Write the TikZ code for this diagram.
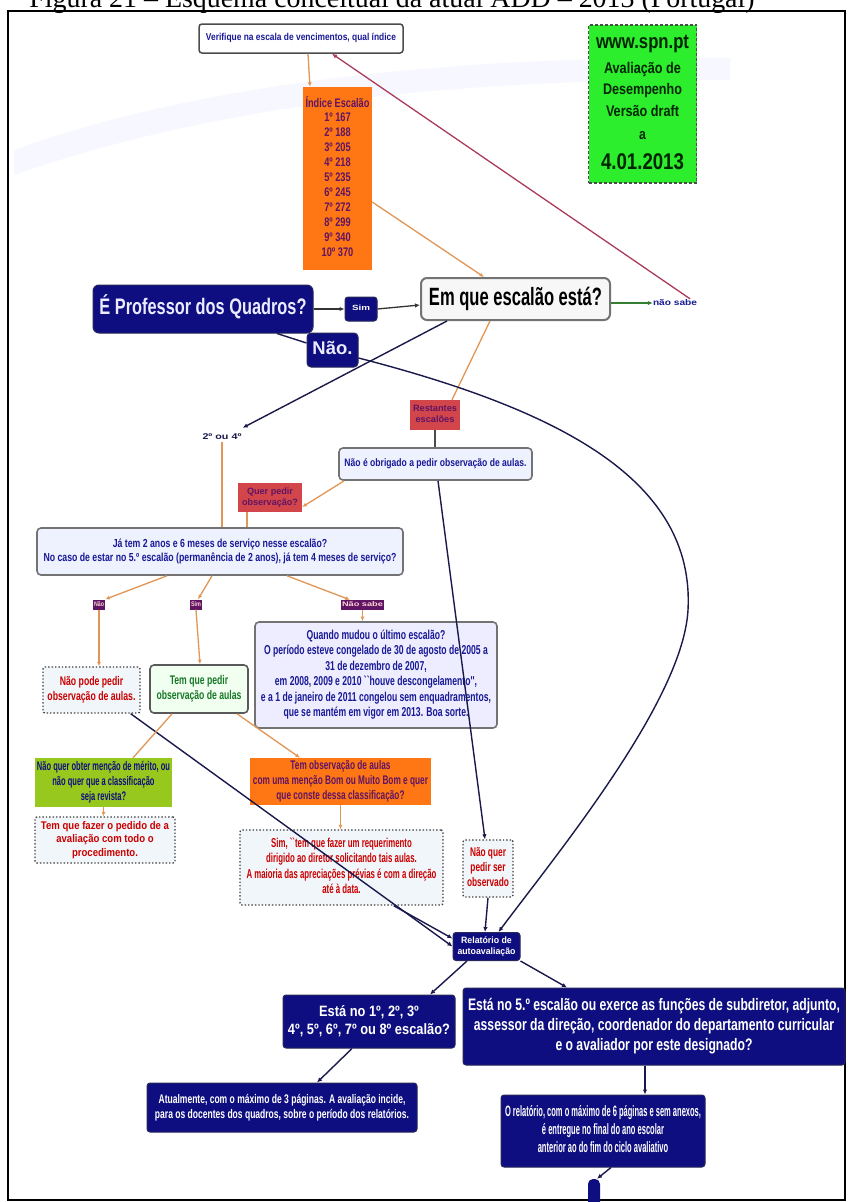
\documentclass[tikz,border=0pt]{standalone}
\usepackage{fontspec}
\usepackage{graphicx}
\setmainfont{Liberation Sans}
\newfontfamily\nar[FakeStretch=0.82]{Liberation Sans}
\newfontfamily\titlefont{Liberation Serif}
\usetikzlibrary{arrows.meta,calc}
\newcommand{\fitt}[3]{\resizebox*{#1}{#2}{\begin{tabular}{@{}c@{}}#3\end{tabular}}}
\definecolor{navy}{RGB}{14,14,128}
\definecolor{navyd}{RGB}{40,40,90}
\definecolor{lnavy}{RGB}{25,25,75}
\definecolor{lorange}{RGB}{225,150,85}
\definecolor{lred}{RGB}{170,60,90}
\definecolor{textblue}{RGB}{25,25,150}
\definecolor{paleblue}{RGB}{238,242,255}
\definecolor{palebg}{RGB}{240,246,250}
\definecolor{boxred}{RGB}{210,70,75}
\definecolor{purp}{RGB}{95,20,100}
\definecolor{orng}{RGB}{255,118,20}
\definecolor{greenb}{RGB}{45,238,45}
\definecolor{limeb}{RGB}{150,200,30}
\definecolor{darkgreen}{RGB}{25,120,40}
\tikzset{
  base/.style={font=\nar\bfseries\fontsize{10}{12}\selectfont, align=center, inner sep=0pt},
  navybox/.style={base, fill=navy, draw=navyd, line width=1pt, rounded corners=3pt, text=white},
  lightbox/.style={base, fill=paleblue, draw=black!55, line width=1.6pt, rounded corners=4pt, text=textblue},
  dotbox/.style={base, fill=palebg, draw=black!75, line width=1.4pt, dotted, rounded corners=2pt, text=red!80!black},
  redbox/.style={base, fill=boxred, text=purp},
  smalllab/.style={base, fill=purp, text=pink!70!white, inner sep=1pt},
  nline/.style={draw=lnavy, line width=1.4pt, -{Latex[length=5pt,width=4.5pt]}},
  nplain/.style={draw=lnavy, line width=1.4pt},
  oline/.style={draw=lorange, line width=1.3pt, -{Latex[length=4.5pt,width=4pt]}},
  oplain/.style={draw=lorange, line width=1.3pt},
  gtext/.style={base, text=black!85!green},
}
\begin{document}
\begin{tikzpicture}[x=1pt,y=-1pt]
\useasboundingbox (0,0) rectangle (849,1202);
\fill[white] (0,0) rectangle (849,1202);
% faint background swoosh
\fill[blue!3] (14,150) .. controls (180,90) and (420,55) .. (730,58) -- (730,80) .. controls (430,78) and (200,110) .. (14,175) -- cycle;
% caption and frame
\node[anchor=base, inner sep=0pt, font=\titlefont] (title) at (392,7)
  {\resizebox{725pt}{!}{Figura 21 – Esquema conceitual da atual ADD – 2013 (Portugal)}};
\draw[line width=1.6pt] (8,11) rectangle (845,1200);

% ---------- nodes ----------
\node[base, fill=white, draw=black!70, line width=1.5pt, rounded corners=3pt, text=textblue,
      minimum width=204pt, minimum height=29pt] (topbox) at (301,38.5)
  {\fitt{190pt}{12pt}{Verifique na escala de vencimentos, qual índice}};

\node[base, fill=orng, text=purp, minimum width=69pt, minimum height=183pt] (indice) at (337.5,178.5)
  {\fitt{64pt}{165pt}{Índice Escalão\\1º 167\\2º 188\\3º 205\\4º 218\\5º 235\\6º 245\\7º 272\\8º 299\\9º 340\\10º 370}};

\node[base, fill=greenb, draw=black!70, densely dashed, line width=1.2pt,
      minimum width=108pt, minimum height=158pt] (green) at (642.5,104) {};
\node[gtext] (g1) at (642.5,44) {\resizebox{93pt}{!}{www.spn.pt}};
\node[gtext] (g2) at (642.5,70) {\resizebox{77pt}{!}{Avaliação de}};
\node[gtext] (g3) at (642.5,91) {\resizebox{79pt}{!}{Desempenho}};
\node[gtext] (g4) at (642.5,111) {\resizebox{73pt}{!}{Versão draft}};
\node[gtext, font=\nar\bfseries\fontsize{15}{16}\selectfont] (g5) at (642.5,136) {a};
\node[gtext] (g6) at (642.5,162) {\resizebox{83pt}{!}{4.01.2013}};

\node[navybox, rounded corners=6pt, text=blue!8!white, minimum width=220pt, minimum height=48pt] (prof) at (203,309)
  {\fitt{207pt}{28pt}{É Professor dos Quadros?}};
\node[navybox, minimum width=32pt, minimum height=24pt] (sim1) at (361,309) {\fitt{18pt}{9pt}{Sim}};
\node[base, fill=black!3, draw=black!55, line width=2pt, rounded corners=6pt, text=black,
      minimum width=189pt, minimum height=42pt] (escalao) at (515.5,299) {\fitt{173pt}{30pt}{Em que escalão está?}};
\node[navybox, rounded corners=4pt, text=blue!8!white, minimum width=51pt, minimum height=34pt] (nao) at (332.5,350)
  {\fitt{40pt}{22pt}{Não.}};
\node[base, text=textblue] (naosabe) at (675,303) {\fitt{44pt}{10pt}{não sabe}};

\node[base, text=lnavy] (esc24) at (222,437) {\fitt{39pt}{10pt}{2º ou 4º}};
\node[redbox, minimum width=50pt, minimum height=30pt] (restantes) at (435,415) {\fitt{44pt}{22pt}{Restantes\\escalões}};
\node[lightbox, minimum width=193pt, minimum height=32pt] (naoobrig) at (435.5,464)
  {\fitt{182pt}{13pt}{Não é obrigado a pedir observação de aulas.}};
\node[redbox, minimum width=64pt, minimum height=29pt] (querpedir) at (270,497.5) {\fitt{56pt}{22pt}{Quer pedir\\observação?}};

\node[lightbox, minimum width=366pt, minimum height=47pt] (bigq) at (220,551.5)
  {\fitt{353pt}{28pt}{Já tem 2 anos e 6 meses de serviço nesse escalão?\\
   No caso de estar no 5.º escalão (permanência de 2 anos), já tem 4 meses de serviço?}};

\node[smalllab] (l1) at (99,604.5) {\fitt{10pt}{8pt}{Não}};
\node[smalllab] (l2) at (196,604.5) {\fitt{10pt}{8pt}{Sim}};
\node[smalllab] (l3) at (362.5,605) {\fitt{41pt}{8pt}{Não sabe}};

\node[dotbox, minimum width=97pt, minimum height=46pt] (naopode) at (91.5,690)
  {\fitt{88pt}{30pt}{Não pode pedir\\observação de aulas.}};
\node[lightbox, fill=green!6!white, text=darkgreen, draw=black!65, minimum width=98pt, minimum height=48pt] (temque) at (199,689)
  {\fitt{85pt}{30pt}{Tem que pedir\\observação de aulas}};
\node[lightbox, fill=blue!7!white, minimum width=242pt, minimum height=106pt] (quando) at (376,675)
  {\fitt{230pt}{93pt}{Quando mudou o último escalão?\\
   O período esteve congelado de 30 de agosto de 2005 a\\
   31 de dezembro de 2007,\\
   em 2008, 2009 e 2010 ``houve descongelamento'',\\
   e a 1 de janeiro de 2011 congelou sem enquadramentos,\\
   que se mantém em vigor em 2013. Boa sorte.}};

\node[base, fill=limeb, text=navy, minimum width=137pt, minimum height=49pt] (lime) at (103.5,782.5)
  {\fitt{133pt}{45pt}{Não quer obter menção de mérito, ou\\não quer que a classificação\\seja revista?}};
\node[base, fill=orng, text=purp, minimum width=181pt, minimum height=47pt] (orange2) at (340.5,781.5)
  {\fitt{175pt}{45pt}{Tem observação de aulas\\com uma menção Bom ou Muito Bom e quer\\que conste dessa classificação?}};

\node[dotbox, minimum width=140pt, minimum height=46pt] (temfazer) at (105,840)
  {\fitt{128pt}{40pt}{Tem que fazer o pedido de a\\avaliação com todo o\\procedimento.}};
\node[dotbox, minimum width=203pt, minimum height=75pt] (simreq) at (341.5,867.5)
  {\fitt{190pt}{62pt}{Sim, ``tem que fazer um requerimento\\dirigido ao diretor solicitando tais aulas.\\A maioria das apreciações prévias é com a direção\\até à data.}};
\node[dotbox, minimum width=50pt, minimum height=57pt] (naoquero) at (488,868.5)
  {\fitt{42pt}{45pt}{Não quer\\pedir ser\\observado}};

\node[navybox, minimum width=67pt, minimum height=28pt] (relat) at (486.5,946.5)
  {\fitt{58pt}{22pt}{Relatório de\\autoavaliação}};

\node[navybox, minimum width=172pt, minimum height=53pt] (esta1) at (369,1021.5)
  {\fitt{162pt}{36pt}{Está no 1º, 2º, 3º\\4º, 5º, 6º, 7º ou 8º escalão?}};
\node[navybox, minimum width=382pt, minimum height=77pt] (esta5) at (654,1026.5)
  {\fitt{372pt}{60pt}{Está no 5.º escalão ou exerce as funções de subdiretor, adjunto,\\
   assessor da direção, coordenador do departamento curricular\\
   e o avaliador por este designado?}};

\node[navybox, minimum width=270pt, minimum height=49pt] (atual) at (282,1107.5)
  {\fitt{254pt}{30pt}{Atualmente, com o máximo de 3 páginas. A avaliação incide,\\
   para os docentes dos quadros, sobre o período dos relatórios.}};
\node[navybox, minimum width=204pt, minimum height=72pt] (orel) at (603,1131)
  {\fitt{196pt}{54pt}{O relatório, com o máximo de 6 páginas e sem anexos,\\
   é entregue no final do ano escolar\\
   anterior ao do fim do ciclo avaliativo}};

\node[fill=navy, rounded corners=5pt, minimum width=12pt, minimum height=38pt, inner sep=0pt] (pill) at (594,1198) {};

% ---------- connectors ----------
\draw[oline] ([xshift=7pt]topbox.south) -- ([xshift=-27.5pt]indice.north);
\draw[draw=lred, line width=1.3pt, -{Latex[length=5pt,width=4.5pt]}] ([xshift=15pt,yshift=-1pt]naosabe.north) -- ([xshift=31pt]topbox.south);
\draw[oline] ([yshift=-23.5pt]indice.east) -- ([xshift=-31.5pt]escalao.north);
\draw[draw=black!80, line width=1.3pt, -{Latex[length=5pt,width=4.5pt]}] (prof.east) -- (sim1.west);
\draw[draw=black!80, line width=1.3pt, -{Latex[length=5pt,width=4.5pt]}] (sim1.east) -- ([yshift=-6pt]escalao.west);
\draw[draw=black!50!green!60!gray, line width=1.5pt, -{Latex[length=5pt,width=4.5pt]}] ([yshift=-4pt]escalao.east) -- (naosabe.west);
\draw[nplain] ([xshift=74pt]prof.south) -- ([yshift=7pt]nao.west);

\draw[nline] ([xshift=-68.5pt]escalao.south) -- ([xshift=1pt,yshift=4pt]esc24.north east);
\draw[oplain] ([xshift=-25.5pt]escalao.south) -- ([xshift=17pt]restantes.north);
\draw[nline] ([yshift=-8pt]nao.east) .. controls (560,410) and (695,480) .. (688,610)
      .. controls (683,700) and (560,850) .. ([xshift=12pt]relat.north);

\draw[draw=black!70, line width=1.3pt] (restantes.south) -- (restantes.south |- naoobrig.north);
\draw[oline] ([xshift=6pt]naoobrig.south west) -- ([yshift=-9.5pt]querpedir.east);
\draw[nline] ([xshift=2.5pt]naoobrig.south) -- ([xshift=-3pt]naoquero.north);

\draw[oplain] (esc24.south) -- (esc24.south |- bigq.north);
\draw[oplain] ([xshift=-23pt]querpedir.south) -- ([xshift=27pt]bigq.north);

\draw[oline] ([xshift=-53pt]bigq.south) -- (l1.north east);
\draw[oline] ([xshift=-8pt]bigq.south) -- ([xshift=2pt]l2.north);
\draw[oline] ([xshift=67pt]bigq.south) -- ([xshift=-12.5pt]l3.north);

\draw[oline] (l1.south) -- ([xshift=7.5pt]naopode.north);
\draw[oline] (l2.south) -- ([xshift=1pt]temque.north);
\draw[oline] (l3.south) -- (l3.south |- quando.north);

\draw[nline] ([xshift=-10pt]naopode.south east) -- (relat.west);
\draw[oplain] ([xshift=-27pt]temque.south) -- ([xshift=29.5pt]lime.north);
\draw[oline] ([xshift=38pt]temque.south) -- ([xshift=-40.5pt]orange2.north);
\draw[oline] (lime.south) -- (lime.south |- temfazer.north);
\draw[oline] (orange2.south) -- (orange2.south |- simreq.north);
\draw[nline] ([xshift=-50pt]simreq.south east) -- ([yshift=8pt]relat.west);
\draw[nline] (naoquero.south) -- ([xshift=-1.5pt]relat.north);

\draw[nline] ([xshift=-19.5pt]relat.south) -- ([xshift=61pt]esta1.north);
\draw[nline] (relat.south east) -- ([xshift=-87pt]esta5.north);
\draw[nline] ([xshift=-17pt]esta1.south) -- ([xshift=35pt]atual.north);
\draw[nline] ([xshift=-9pt]esta5.south) -- ([xshift=42pt]orel.north);
\draw[nline] ([xshift=8pt]orel.south) -- ([xshift=3pt]pill.north);
\end{tikzpicture}
\end{document}
